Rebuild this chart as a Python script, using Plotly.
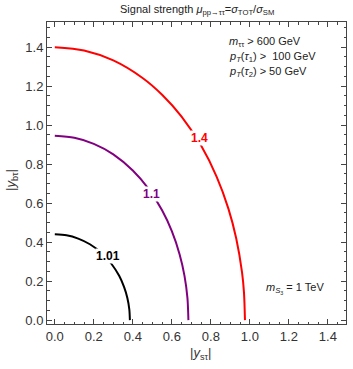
import plotly.graph_objects as go

# ── contour lines (|y_sτ|, |y_bτ|) ──────────────────────────────────────────
x_101 = [0.0, 0.06, 0.12, 0.18, 0.24, 0.29, 0.33, 0.355, 0.372, 0.382, 0.385]
y_101 = [0.44, 0.435, 0.418, 0.389, 0.344, 0.289, 0.227, 0.170, 0.113, 0.055, 0.0]

x_11 = [0.0, 0.1, 0.2, 0.3, 0.4, 0.48, 0.55, 0.60, 0.64, 0.665, 0.68, 0.685]
y_11 = [0.945, 0.935, 0.904, 0.850, 0.767, 0.674, 0.563, 0.456, 0.337, 0.227, 0.114, 0.0]

x_14 = [0.0, 0.15, 0.30, 0.45, 0.55, 0.65, 0.75, 0.83, 0.89, 0.93, 0.96, 0.97, 0.975]
y_14 = [1.40, 1.383, 1.332, 1.242, 1.156, 1.044, 0.895, 0.735, 0.572, 0.420, 0.245, 0.141, 0.0]

levels = ["1.01", "1.1", "1.4"]
colors = ["#000000", "#800080", "#ff0000"]
label_pos = [(0.273, 0.328), (0.496, 0.646), (0.744, 0.933)]

FONT = "Liberation Sans, Arial, sans-serif"
AX = "#444444"

fig = go.Figure()

for xs, ys, c in zip([x_101, x_11, x_14], [y_101, y_11, y_14], colors):
    fig.add_trace(go.Scatter(
        x=xs, y=ys, mode="lines",
        line=dict(color=c, width=2, shape="spline", smoothing=0.8),
        showlegend=False, hoverinfo="skip"
    ))

# contour labels sitting on the lines
for lab, c, (lx, ly) in zip(levels, colors, label_pos):
    fig.add_annotation(x=lx, y=ly, text=f"<b>{lab}</b>", showarrow=False,
                       font=dict(family=FONT, size=12, color=c),
                       bgcolor="white", borderpad=0)

# cuts
cuts = ["<i>m</i><sub>ττ</sub> > 600 GeV",
        "<i>p</i><sub><i>T</i></sub>(<i>τ</i><sub>1</sub>) >  100 GeV",
        "<i>p</i><sub><i>T</i></sub>(<i>τ</i><sub>2</sub>) > 50 GeV"]
for i, t in enumerate(cuts):
    fig.add_annotation(x=0.885, y=1.425 - i * 0.077, text=t, showarrow=False,
                       xanchor="left", yanchor="middle",
                       font=dict(family=FONT, size=11, color="#222"))

fig.add_annotation(x=1.075, y=0.16, text="<i>m</i><sub><i>S</i><sub>3</sub></sub> = 1 TeV",
                   showarrow=False, xanchor="left", yanchor="middle",
                   font=dict(family=FONT, size=11, color="#222"))

# title + axis titles (placed in paper coords from pixel positions)
def px(x):
    return (x - 47) / 299

def py(y):
    return (324 - y) / 302

fig.add_annotation(
    x=px(197), y=py(10), xref="paper", yref="paper", xanchor="center", yanchor="middle",
    text="Signal strength <i>μ</i><sub>pp→ττ</sub>=<i>σ</i><sub>TOT</sub>/<i>σ</i><sub>SM</sub>",
    showarrow=False, font=dict(family=FONT, size=11, color="#222"))
fig.add_annotation(
    x=px(200), y=py(353), xref="paper", yref="paper", xanchor="center", yanchor="middle",
    text="|<i>y</i><sub>sτ</sub>|", showarrow=False,
    font=dict(family=FONT, size=13, color="#333"))
fig.add_annotation(
    x=px(11), y=py(180), xref="paper", yref="paper", xanchor="center", yanchor="middle",
    text="|<i>y</i><sub>bτ</sub>|", showarrow=False, textangle=-90,
    font=dict(family=FONT, size=13, color="#333"))

axis_common = dict(
    showgrid=False, zeroline=False, showline=True, linecolor=AX, linewidth=1,
    mirror="allticks", ticks="inside", ticklen=5, tickcolor=AX, tickwidth=1,
    tick0=0, dtick=0.2, tickformat=".1f",
    tickfont=dict(family=FONT, size=13, color="#333"),
    minor=dict(ticks="inside", dtick=0.05, ticklen=2.5, tickcolor=AX),
)

fig.update_layout(
    width=353, height=369,
    margin=dict(l=47, r=7, t=22, b=45),
    paper_bgcolor="white", plot_bgcolor="white",
    xaxis=dict(range=[-0.04, 1.493], **axis_common),
    yaxis=dict(range=[-0.02, 1.529], **axis_common),
    showlegend=False,
)

fig.write_html("out.html", config={"displayModeBar": False},
               post_script="document.body.style.margin='0';")
